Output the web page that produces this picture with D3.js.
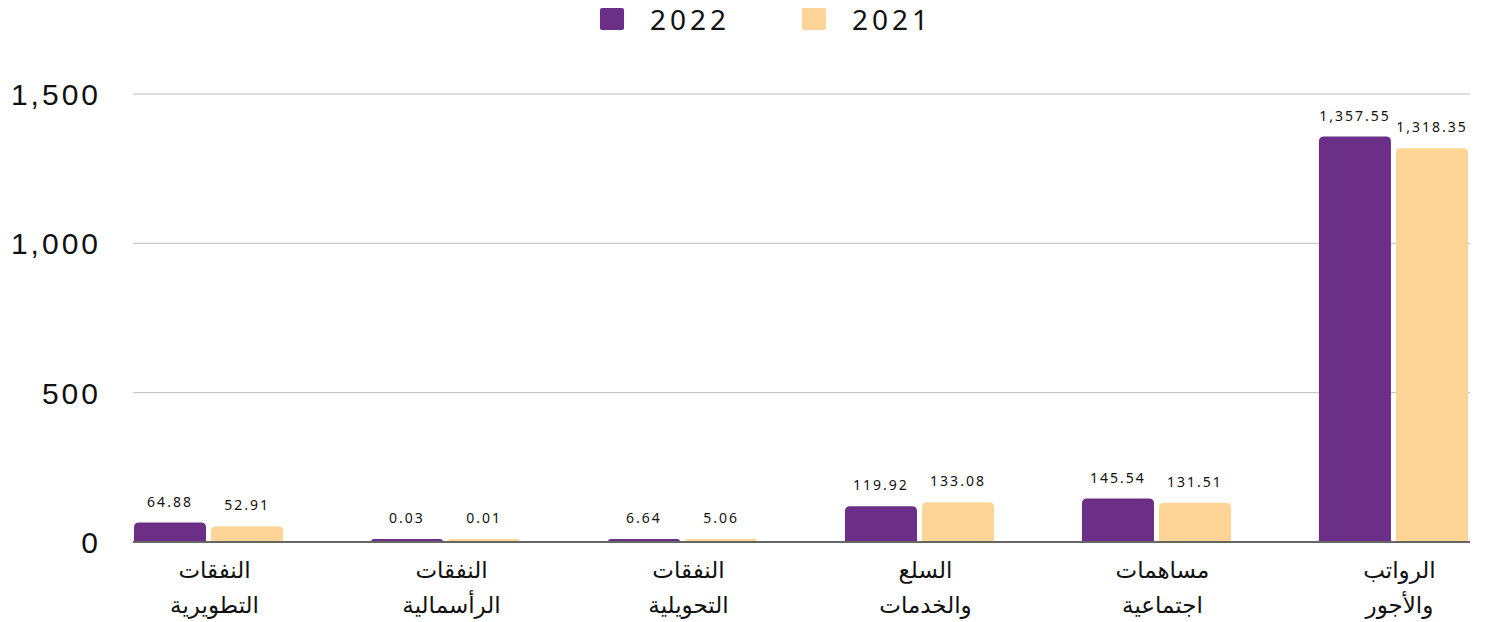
<!DOCTYPE html>
<html>
<head>
<meta charset="utf-8">
<script src="https://cdn.jsdelivr.net/npm/d3@7"></script>
<style>
body { margin: 0; background: #fff; }
svg { display: block; font-family: "Noto Sans", "DejaVu Sans", sans-serif; }
</style>
</head>
<body>
<script>
const categories = [
	['النفقات', 'التطويرية'],
	['النفقات', 'الرأسمالية'],
	['النفقات', 'التحويلية'],
	['السلع', 'والخدمات'],
	['مساهمات', 'اجتماعية'],
	['الرواتب', 'والأجور']
]
const years = ['2022', '2021']
const values2022 = [64.88, 0.03, 6.64, 119.92, 145.54, 1357.55]
const values2021 = [52.91, 0.01, 5.06, 133.08, 131.51, 1318.35]
const yTicks = [0, 500, 1000, 1500]
const colors = ['#6b2f87', '#fed597']

const width = 1487
const height = 622

const rows = categories.map((c, i) => ({ label: c, values: [values2022[i], values2021[i]] }))

const x0 = d3.scaleBand()
	.domain(d3.range(categories.length))
	.range([134, 1468])
	.paddingInner(0.371)
	.paddingOuter(0)

const x1 = d3.scaleBand()
	.domain([0, 1])
	.range([0, x0.bandwidth()])
	.paddingInner(0.065)

const y = d3.scaleLinear()
	.domain([0, 1500])
	.range([542, 94])

const svg = d3.select('body')
	.append('svg')
	.attr('width', width)
	.attr('height', height)

// grid
svg.append('g')
	.selectAll('line')
	.data(yTicks.filter(t => t > 0))
	.enter()
	.append('line')
	.attr('x1', 133)
	.attr('x2', 1470)
	.attr('y1', d => y(d))
	.attr('y2', d => y(d))
	.attr('stroke', '#bdbdbd')
	.attr('stroke-width', 1)

const yAxis = d3.axisLeft(y)
	.tickValues(yTicks)
	.tickFormat(d3.format(','))
	.tickSize(0)
	.tickPadding(0)

svg.append('g')
	.attr('transform', 'translate(101,0)')
	.call(yAxis)
	.call(g => g.select('.domain').remove())
	.selectAll('text')
	.attr('font-size', 30)
	.attr('letter-spacing', 3)
	.attr('fill', '#111')
	.attr('dy', '0.35em')

const barPath = (bx, by, bw, bh, r) => {
	r = Math.min(r, bh, bw / 2)
	return `M${bx},${by + bh}V${by + r}Q${bx},${by} ${bx + r},${by}H${bx + bw - r}Q${bx + bw},${by} ${bx + bw},${by + r}V${by + bh}Z`
}

const group = svg.append('g')
	.selectAll('g')
	.data(rows)
	.enter()
	.append('g')
	.attr('transform', (d, i) => `translate(${x0(i)},0)`)

const bars = group.selectAll('g')
	.data(d => d.values.map((v, k) => ({ v, k })))
	.enter()
	.append('g')

const barTop = d => Math.min(y(d.v), y(0) - 3)

bars.append('path')
	.attr('d', d => barPath(x1(d.k), barTop(d), x1.bandwidth(), y(0) - barTop(d), 5))
	.attr('fill', d => colors[d.k])

bars.append('text')
	.attr('x', d => x1(d.k) + x1.bandwidth() / 2)
	.attr('y', d => barTop(d) - 16)
	.attr('text-anchor', 'middle')
	.attr('font-size', 14)
	.attr('letter-spacing', 2)
	.attr('fill', '#111')
	.text(d => d3.format(',.2f')(d.v))

// baseline
svg.append('line')
	.attr('x1', 133)
	.attr('x2', 1470)
	.attr('y1', y(0))
	.attr('y2', y(0))
	.attr('stroke', '#666')
	.attr('stroke-width', 2)

// category labels
const labels = svg.append('g')
	.selectAll('text')
	.data(rows)
	.enter()
	.append('text')
	.attr('text-anchor', 'middle')
	.attr('font-size', 23)
	.attr('fill', '#111')
	.attr('direction', 'rtl')

labels.selectAll('tspan')
	.data(d => d.label)
	.enter()
	.append('tspan')
	.attr('x', function () {
		const i = rows.indexOf(d3.select(this.parentNode).datum())
		return x0(i) + x0.bandwidth() / 2 + 6
	})
	.attr('y', (d, j) => 578 + j * 35)
	.text(d => d)

// legend
const legend = svg.append('g')
	.selectAll('g')
	.data(years)
	.enter()
	.append('g')
	.attr('transform', (d, i) => `translate(${600 + i * 202},8)`)

legend.append('rect')
	.attr('width', 24)
	.attr('height', 22)
	.attr('rx', 2)
	.attr('fill', (d, i) => colors[i])

legend.append('text')
	.attr('x', 50)
	.attr('y', 22)
	.attr('font-size', 28)
	.attr('letter-spacing', 4)
	.attr('fill', '#111')
	.text(d => d)
</script>
</body>
</html>
